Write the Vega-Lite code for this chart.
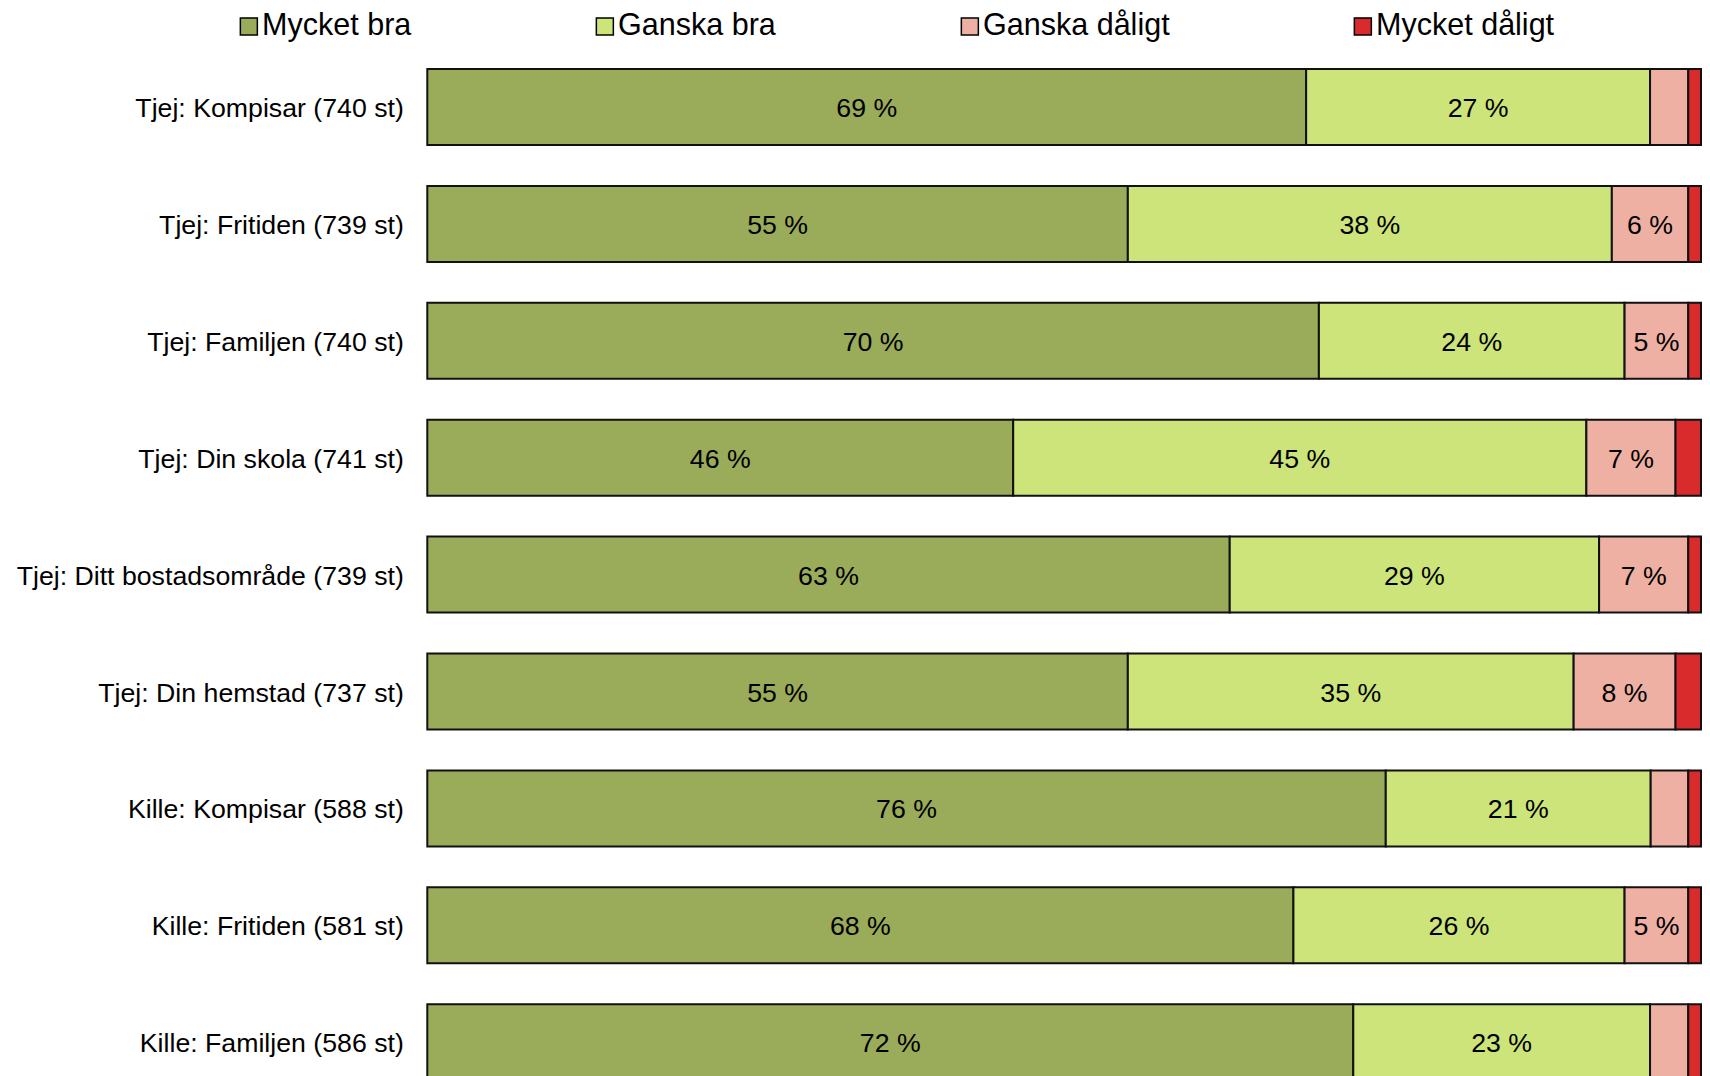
{
  "$schema": "https://vega.github.io/schema/vega-lite/v6.json",
  "autosize": "none",
  "width": 1273.7,
  "height": 1011.2,
  "padding": {"left": 427.3, "top": 69, "right": 9, "bottom": -4.2},
  "background": "white",
  "config": {"view": {"stroke": null}, "font": "Liberation Sans"},
  "data": {"values": [
    {"rad": "Tjej: Kompisar (740 st)", "kategori": "Mycket bra", "pct": 69.0, "etikett": 69},
    {"rad": "Tjej: Kompisar (740 st)", "kategori": "Ganska bra", "pct": 27.0, "etikett": 27},
    {"rad": "Tjej: Kompisar (740 st)", "kategori": "Ganska dåligt", "pct": 3.0, "etikett": 3},
    {"rad": "Tjej: Kompisar (740 st)", "kategori": "Mycket dåligt", "pct": 1.0, "etikett": 1},
    {"rad": "Tjej: Fritiden (739 st)", "kategori": "Mycket bra", "pct": 55.0, "etikett": 55},
    {"rad": "Tjej: Fritiden (739 st)", "kategori": "Ganska bra", "pct": 38.0, "etikett": 38},
    {"rad": "Tjej: Fritiden (739 st)", "kategori": "Ganska dåligt", "pct": 6.0, "etikett": 6},
    {"rad": "Tjej: Fritiden (739 st)", "kategori": "Mycket dåligt", "pct": 1.0, "etikett": 1},
    {"rad": "Tjej: Familjen (740 st)", "kategori": "Mycket bra", "pct": 70.0, "etikett": 70},
    {"rad": "Tjej: Familjen (740 st)", "kategori": "Ganska bra", "pct": 24.0, "etikett": 24},
    {"rad": "Tjej: Familjen (740 st)", "kategori": "Ganska dåligt", "pct": 5.0, "etikett": 5},
    {"rad": "Tjej: Familjen (740 st)", "kategori": "Mycket dåligt", "pct": 1.0, "etikett": 1},
    {"rad": "Tjej: Din skola (741 st)", "kategori": "Mycket bra", "pct": 46.0, "etikett": 46},
    {"rad": "Tjej: Din skola (741 st)", "kategori": "Ganska bra", "pct": 45.0, "etikett": 45},
    {"rad": "Tjej: Din skola (741 st)", "kategori": "Ganska dåligt", "pct": 7.0, "etikett": 7},
    {"rad": "Tjej: Din skola (741 st)", "kategori": "Mycket dåligt", "pct": 2.0, "etikett": 2},
    {"rad": "Tjej: Ditt bostadsområde (739 st)", "kategori": "Mycket bra", "pct": 63.0, "etikett": 63},
    {"rad": "Tjej: Ditt bostadsområde (739 st)", "kategori": "Ganska bra", "pct": 29.0, "etikett": 29},
    {"rad": "Tjej: Ditt bostadsområde (739 st)", "kategori": "Ganska dåligt", "pct": 7.0, "etikett": 7},
    {"rad": "Tjej: Ditt bostadsområde (739 st)", "kategori": "Mycket dåligt", "pct": 1.0, "etikett": 1},
    {"rad": "Tjej: Din hemstad (737 st)", "kategori": "Mycket bra", "pct": 55.0, "etikett": 55},
    {"rad": "Tjej: Din hemstad (737 st)", "kategori": "Ganska bra", "pct": 35.0, "etikett": 35},
    {"rad": "Tjej: Din hemstad (737 st)", "kategori": "Ganska dåligt", "pct": 8.0, "etikett": 8},
    {"rad": "Tjej: Din hemstad (737 st)", "kategori": "Mycket dåligt", "pct": 2.0, "etikett": 2},
    {"rad": "Kille: Kompisar (588 st)", "kategori": "Mycket bra", "pct": 75.25, "etikett": 76},
    {"rad": "Kille: Kompisar (588 st)", "kategori": "Ganska bra", "pct": 20.8, "etikett": 21},
    {"rad": "Kille: Kompisar (588 st)", "kategori": "Ganska dåligt", "pct": 2.95, "etikett": 3},
    {"rad": "Kille: Kompisar (588 st)", "kategori": "Mycket dåligt", "pct": 1.0, "etikett": 1},
    {"rad": "Kille: Fritiden (581 st)", "kategori": "Mycket bra", "pct": 68.0, "etikett": 68},
    {"rad": "Kille: Fritiden (581 st)", "kategori": "Ganska bra", "pct": 26.0, "etikett": 26},
    {"rad": "Kille: Fritiden (581 st)", "kategori": "Ganska dåligt", "pct": 5.0, "etikett": 5},
    {"rad": "Kille: Fritiden (581 st)", "kategori": "Mycket dåligt", "pct": 1.0, "etikett": 1},
    {"rad": "Kille: Familjen (586 st)", "kategori": "Mycket bra", "pct": 72.7, "etikett": 72},
    {"rad": "Kille: Familjen (586 st)", "kategori": "Ganska bra", "pct": 23.3, "etikett": 23},
    {"rad": "Kille: Familjen (586 st)", "kategori": "Ganska dåligt", "pct": 3.0, "etikett": 3},
    {"rad": "Kille: Familjen (586 st)", "kategori": "Mycket dåligt", "pct": 1.0, "etikett": 1}
  ]},
  "transform": [
    {"calculate": "indexof(['Mycket bra','Ganska bra','Ganska dåligt','Mycket dåligt'], datum.kategori)", "as": "ord"},
    {"stack": "pct", "groupby": ["rad"], "sort": [{"field": "ord", "order": "ascending"}], "as": ["x0", "x1"]},
    {"calculate": "(datum.x0 + datum.x1) / 2", "as": "xmid"},
    {"calculate": "datum.etikett + ' %'", "as": "lbl"}
  ],
  "encoding": {
    "y": {
      "field": "rad", "type": "nominal",
      "sort": ["Tjej: Kompisar (740 st)", "Tjej: Fritiden (739 st)", "Tjej: Familjen (740 st)", "Tjej: Din skola (741 st)", "Tjej: Ditt bostadsområde (739 st)", "Tjej: Din hemstad (737 st)", "Kille: Kompisar (588 st)", "Kille: Fritiden (581 st)", "Kille: Familjen (586 st)"],
      "scale": {"paddingInner": 0.35, "paddingOuter": 0},
      "axis": {"title": null, "ticks": false, "domain": false, "grid": false, "labelFontSize": 26.7, "labelColor": "black", "labelPadding": 24, "labelLimit": 600, "labelFont": "Liberation Sans", "labelOffset": 2}
    }
  },
  "layer": [
    {
      "mark": {"type": "bar", "stroke": "#111111", "strokeWidth": 2},
      "encoding": {
        "x": {"field": "x0", "type": "quantitative", "scale": {"domain": [0, 100], "nice": false, "zero": true}, "axis": null},
        "x2": {"field": "x1"},
        "color": {
          "field": "kategori", "type": "nominal",
          "scale": {"domain": ["Mycket bra", "Ganska bra", "Ganska dåligt", "Mycket dåligt"], "range": ["#9aab59", "#cce47a", "#eeb0a3", "#d92b2b"]},
          "legend": {"orient": "none", "legendX": -193.7, "legendY": -58, "direction": "horizontal", "columns": 4, "title": null, "labelFontSize": 30.5, "labelFont": "Liberation Sans", "labelColor": "black", "symbolType": "square", "symbolSize": 289, "symbolStrokeColor": "black", "symbolStrokeWidth": 1.5, "symbolOpacity": 1, "labelOffset": -2, "columnPadding": 178, "labelLimit": 400}
        }
      }
    },
    {
      "transform": [{"filter": "datum.etikett >= 5"}],
      "mark": {"type": "text", "fontSize": 26.7, "color": "black", "font": "Liberation Sans", "baseline": "middle", "align": "center", "dy": 2},
      "encoding": {
        "x": {"field": "xmid", "type": "quantitative"},
        "text": {"field": "lbl", "type": "nominal"}
      }
    }
  ]
}
